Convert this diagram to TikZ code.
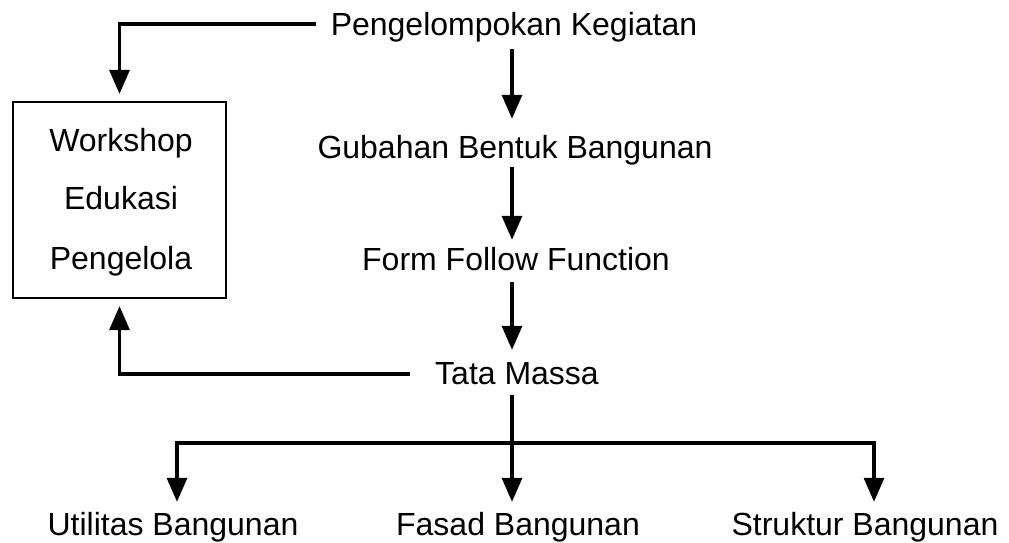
\documentclass[tikz,border=0pt]{standalone}
\usepackage{fontspec}
\setmainfont{Liberation Sans}
\usetikzlibrary{arrows.meta}
\begin{document}
\begin{tikzpicture}[x=1pt,y=-1pt,
  lbl/.style={font=\fontsize{32}{38}\selectfont, anchor=base, inner sep=0pt, text height=23pt, text depth=7pt},
  conn/.style={line width=3.2pt, -{Triangle[length=24pt,width=20pt]}},
  boxst/.style={draw, line width=2.2pt, minimum width=213pt, minimum height=196pt, inner sep=0pt}]
\useasboundingbox (0,0) rectangle (1009,542);
\coordinate (col) at (512,0);
% nodes
\node[lbl] (pk) at (514,35) {Pengelompokan Kegiatan};
\node[lbl] (gb) at (515,158) {Gubahan Bentuk Bangunan};
\node[lbl] (ff) at (516,270) {Form Follow Function};
\node[lbl] (tm) at (517,384) {Tata Massa};
\node[boxst] (box) at (119.5,200) {};
\node[lbl] (w1) at (121,151) {Workshop};
\node[lbl] (w2) at (121,209) {Edukasi};
\node[lbl] (w3) at (121,269) {Pengelola};
\node[lbl] (ut) at (173,535) {Utilitas Bangunan};
\node[lbl] (fa) at (518,535) {Fasad Bangunan};
\node[lbl] (st) at (865,535) {Struktur Bangunan};
\coordinate (bus) at (512,443);
% main column
\draw[conn, shorten <=7pt, shorten >=16pt] (pk.south -| col) -- (gb.north -| col);
\draw[conn, shorten <=2pt, shorten >=7pt] (gb.south -| col) -- (ff.north -| col);
\draw[conn, shorten <=5pt, shorten >=11pt] (ff.south -| col) -- (tm.north -| col);
\draw[conn, shorten <=4pt, shorten >=10pt] (tm.south -| col) -- (fa.north -| col);
% side connectors
\draw[conn, shorten <=15pt, shorten >=7pt] ([yshift=3pt]pk.west) -| (box.north);
\draw[conn, shorten <=25pt, shorten >=7pt] ([yshift=2pt]tm.west) -| (box.south);
% bus
\draw[conn, shorten >=10pt] (bus) -| ([xshift=4pt]ut.north);
\draw[conn, shorten >=10pt] (bus) -| ([xshift=9pt]st.north);
\end{tikzpicture}
\end{document}
